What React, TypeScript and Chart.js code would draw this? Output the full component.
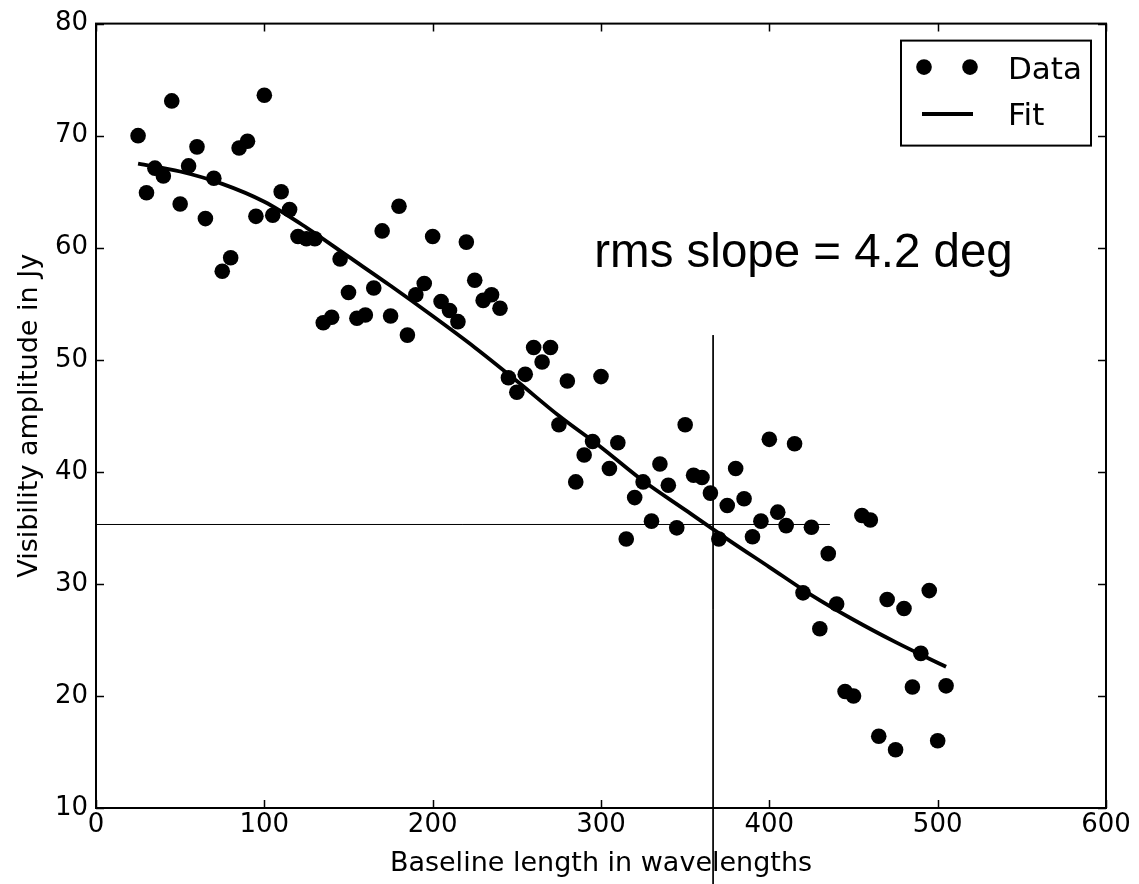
import React, { useEffect, useRef } from 'react';
import { Chart, registerables } from 'chart.js';

Chart.register(...registerables);

// Baseline lengths (wavelengths) of the data points
const baselines = [
  25, 30, 35, 40, 45, 50, 55, 60, 65, 70, 75, 80, 85, 90, 95, 100,
  105, 110, 115, 120, 125, 130, 135, 140, 145, 150, 155, 160, 165, 170, 175, 180,
  185, 190, 195, 200, 205, 210, 215, 220, 225, 230, 235, 240, 245, 250, 255, 260,
  265, 270, 275, 280, 285, 290, 295, 300, 305, 310, 315, 320, 325, 330, 335, 340,
  345, 350, 355, 360, 365, 370, 375, 380, 385, 390, 395, 400, 405, 410, 415, 420,
  425, 430, 435, 440, 445, 450, 455, 460, 465, 470, 475, 480, 485, 490, 495, 500, 505,
];

// Visibility amplitudes (Jy)
const amplitudes = [
  70.0, 64.9, 67.1, 66.4, 73.1, 63.9, 67.3, 69.0, 62.6, 66.2, 57.9, 59.1, 68.9, 69.5, 62.8, 73.6,
  62.9, 65.0, 63.4, 61.0, 60.8, 60.8, 53.3, 53.8, 59.0, 56.0, 53.7, 54.0, 56.4, 61.5, 53.9, 63.7,
  52.2, 55.8, 56.8, 61.0, 55.2, 54.4, 53.4, 60.5, 57.1, 55.3, 55.8, 54.6, 48.4, 47.1, 48.7, 51.1,
  49.8, 51.1, 44.2, 48.1, 39.1, 41.5, 42.7, 48.5, 40.3, 42.6, 34.0, 37.7, 39.1, 35.6, 40.7, 38.8,
  35.0, 44.2, 39.7, 39.5, 38.1, 34.0, 37.0, 40.3, 37.6, 34.2, 35.6, 42.9, 36.4, 35.2, 42.5, 29.2,
  35.05, 26.0, 32.7, 28.2, 20.4, 20.0, 36.1, 35.7, 16.4, 28.6, 15.2, 27.8, 20.8, 23.8, 29.4, 16.0, 20.9,
];

// Fit curve samples
const fitX = [25, 50, 75, 100, 125, 150, 175, 200, 225, 250, 275, 300, 325, 350, 375, 400, 425, 450, 475, 505];
const fitY = [67.5, 66.8, 65.7, 64.1, 61.8, 59.2, 56.6, 53.9, 51.1, 48.1, 45.0, 42.2, 39.2, 36.6, 34.0, 31.5, 29.0, 26.8, 24.8, 22.6];

// Cross-hair marker
const crossHX = [0, 436];
const crossHY = [35.3, 35.3];
const crossVX = [366.6, 366.6];
const crossVY = [52.2, 3.2];

// Axis ticks
const xTicks = [0, 100, 200, 300, 400, 500, 600];
const yTicks = [10, 20, 30, 40, 50, 60, 70, 80];

const annotationText = 'rms slope = 4.2 deg';
const annotationPos = { x: 296.0, y: 58.24 };

const TICK_FONT = 'DejaVu Sans';

const framePlugin = {
  id: 'frameAndLegend',
  afterDraw(chart: any) {
    const { ctx, chartArea: a, scales } = chart;
    const xs = scales.x;
    const ys = scales.y;
    ctx.save();
    // inward ticks
    ctx.strokeStyle = '#000';
    ctx.lineWidth = 1.5;
    ctx.beginPath();
    for (const v of xTicks) {
      const px = Math.round(xs.getPixelForValue(v)) + 0.5;
      ctx.moveTo(px, a.bottom);
      ctx.lineTo(px, a.bottom - 8);
      ctx.moveTo(px, a.top);
      ctx.lineTo(px, a.top + 8);
    }
    for (const v of yTicks) {
      const py = Math.round(ys.getPixelForValue(v)) + 0.5;
      ctx.moveTo(a.left, py);
      ctx.lineTo(a.left + 8, py);
      ctx.moveTo(a.right, py);
      ctx.lineTo(a.right - 8, py);
    }
    ctx.stroke();
    // frame
    ctx.lineWidth = 2;
    ctx.strokeRect(a.left, a.top, a.right - a.left, a.bottom - a.top);

    // annotation text
    ctx.fillStyle = '#000';
    ctx.font = '47.5px "Liberation Sans"';
    ctx.textAlign = 'left';
    ctx.textBaseline = 'alphabetic';
    ctx.fillText(annotationText, xs.getPixelForValue(annotationPos.x), ys.getPixelForValue(annotationPos.y));

    // legend box
    const bl = a.right - 205;
    const bt = a.top + 17;
    const bw = 190;
    const bh = 105;
    ctx.fillStyle = '#fff';
    ctx.fillRect(bl, bt, bw, bh);
    ctx.strokeStyle = '#000';
    ctx.lineWidth = 2;
    ctx.strokeRect(bl, bt, bw, bh);
    ctx.fillStyle = '#000';
    for (const dx of [23, 69]) {
      ctx.beginPath();
      ctx.arc(bl + dx, bt + 26.5, 7.8, 0, Math.PI * 2);
      ctx.fill();
    }
    ctx.lineWidth = 4;
    ctx.beginPath();
    ctx.moveTo(bl + 21, bt + 73.5);
    ctx.lineTo(bl + 72, bt + 73.5);
    ctx.stroke();
    ctx.font = `31px "${TICK_FONT}"`;
    ctx.fillText('Data', bl + 107, bt + 38);
    ctx.fillText('Fit', bl + 107, bt + 84.5);
    ctx.restore();
  },
};

export default function App() {
  const canvasRef = useRef<HTMLCanvasElement>(null);

  useEffect(() => {
    if (!canvasRef.current) return;
    const dataPoints = baselines.map((b, i) => ({ x: b, y: amplitudes[i] }));
    const fitPoints = fitX.map((b, i) => ({ x: b, y: fitY[i] }));
    const hLine = crossHX.map((b, i) => ({ x: b, y: crossHY[i] }));
    const vLine = crossVX.map((b, i) => ({ x: b, y: crossVY[i] }));

    const chart = new Chart(canvasRef.current, {
      type: 'scatter',
      data: {
        datasets: [
          {
            label: 'Cross H',
            data: hLine,
            showLine: true,
            borderColor: '#000',
            borderWidth: 1,
            pointRadius: 0,
            clip: false,
          } as any,
          {
            label: 'Cross V',
            data: vLine,
            showLine: true,
            borderColor: '#000',
            borderWidth: 1,
            pointRadius: 0,
            clip: false,
          } as any,
          {
            label: 'Fit',
            data: fitPoints,
            showLine: true,
            borderColor: '#000',
            borderWidth: 3.8,
            pointRadius: 0,
            cubicInterpolationMode: 'monotone',
          } as any,
          {
            label: 'Data',
            data: dataPoints,
            backgroundColor: '#000',
            borderColor: '#000',
            borderWidth: 0,
            pointRadius: 7.8,
            pointHoverRadius: 7.8,
          },
        ],
      },
      options: {
        animation: false,
        responsive: false,
        devicePixelRatio: 1,
        layout: { padding: { top: 20, right: 33, left: 0, bottom: 0 } },
        plugins: {
          legend: { display: false },
          tooltip: { enabled: false },
        },
        scales: {
          x: {
            type: 'linear',
            min: 0,
            max: 600,
            grid: { display: false, drawTicks: false, tickLength: 0 },
            border: { display: false },
            ticks: {
              stepSize: 100,
              padding: 2,
              color: '#000',
              font: { family: TICK_FONT, size: 26 },
            },
            title: {
              display: true,
              text: 'Baseline length in wavelengths',
              color: '#000',
              font: { family: TICK_FONT, size: 27 },
              padding: { top: 0, bottom: 4 },
            },
            afterFit: (s: any) => {
              s.height = 76;
            },
          },
          y: {
            type: 'linear',
            min: 10,
            max: 80,
            grid: { display: false, drawTicks: false, tickLength: 0 },
            border: { display: false },
            ticks: {
              stepSize: 10,
              padding: 8,
              color: '#000',
              font: { family: TICK_FONT, size: 26 },
            },
            title: {
              display: true,
              text: 'Visibility amplitude in Jy',
              color: '#000',
              font: { family: TICK_FONT, size: 27 },
              padding: { top: 14, bottom: 0 },
            },
            afterFit: (s: any) => {
              s.width = 96;
            },
          },
        },
      },
      plugins: [framePlugin],
    });
    return () => chart.destroy();
  }, []);

  return (
    <div style={{ position: 'absolute', left: 0, top: 0, width: 1139, height: 884, background: '#fff' }}>
      <canvas ref={canvasRef} width={1139} height={884} style={{ display: 'block' }} />
    </div>
  );
}
